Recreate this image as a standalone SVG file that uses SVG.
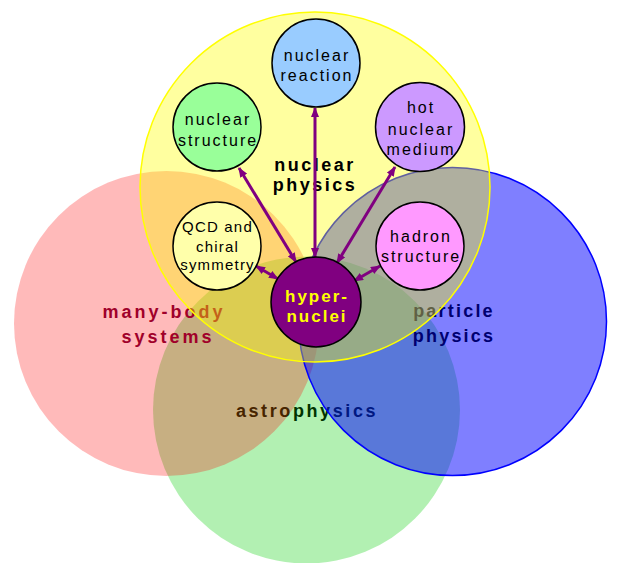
<svg xmlns="http://www.w3.org/2000/svg" width="622" height="563" viewBox="0 0 622 563">
<defs>
<marker id="ah" viewBox="0 0 10 8" refX="9" refY="4" markerWidth="10" markerHeight="8" markerUnits="userSpaceOnUse" orient="auto-start-reverse">
<path d="M0,0 L10,4 L0,8 z" fill="#800080"/>
</marker>
</defs>
<style>
text{font-family:"Liberation Sans",Arial,sans-serif;text-anchor:middle}
.big{font-size:18px;font-weight:bold;letter-spacing:2.6px}
.sm{font-size:16px;letter-spacing:2px;fill:#000}
.node{stroke:#000;stroke-width:1.5}
.conn line{stroke:#800080;stroke-width:3;marker-start:url(#ah);marker-end:url(#ah)}
</style>
<rect width="622" height="563" fill="#fff"/>
<g id="astrophysics">
<circle cx="306.5" cy="410" r="153.5" fill="#00cc00" fill-opacity="0.3"/>
<text class="big" x="307" y="417" fill="#003300">astrophysics</text>
</g>
<g id="many-body-systems">
<circle cx="166.5" cy="323.5" r="152.5" fill="#ff0000" fill-opacity="0.27"/>
<text class="big" x="164" y="318" fill="#a0002a" style="letter-spacing:3px">many-body</text>
<text class="big" x="168" y="342.5" fill="#a0002a" style="letter-spacing:3px">systems</text>
</g>
<g id="particle-physics">
<circle cx="452.5" cy="321.5" r="154" fill="#0000ff" fill-opacity="0.5" stroke="#0000ff" stroke-width="1.5"/>
<text class="big" x="454" y="317" fill="#000070" style="letter-spacing:2.2px">particle</text>
<text class="big" x="454" y="341.5" fill="#000070" style="letter-spacing:2.2px">physics</text>
</g>
<g id="nuclear-physics">
<circle cx="315" cy="187" r="175" fill="#ffff00" fill-opacity="0.375" stroke="#ffff00" stroke-width="1.5"/>
<text class="big" x="315" y="171" fill="#000" style="letter-spacing:2.5px">nuclear</text>
<text class="big" x="315" y="191" fill="#000" style="letter-spacing:2.5px">physics</text>
</g>
<g class="conn" id="connectors">
<line x1="239" y1="168" x2="296" y2="262"/>
<line x1="315" y1="108" x2="315" y2="257"/>
<line x1="395" y1="167" x2="337" y2="263"/>
<line x1="256" y1="266" x2="278" y2="279"/>
<line x1="380" y1="266" x2="354" y2="281"/>
</g>
<g id="nuclear-reaction">
<circle class="node" cx="316" cy="63" r="44" fill="#99ccff"/>
<text class="sm" x="317" y="61">nuclear</text>
<text class="sm" x="317" y="81">reaction</text>
</g>
<g id="nuclear-structure">
<circle class="node" cx="217" cy="127" r="44" fill="#99ff99"/>
<text class="sm" x="218" y="125">nuclear</text>
<text class="sm" x="218" y="146">structure</text>
</g>
<g id="hot-nuclear-medium">
<circle class="node" cx="420" cy="127" r="44.5" fill="#cc99ff"/>
<text class="sm" x="421" y="113">hot</text>
<text class="sm" x="421" y="135">nuclear</text>
<text class="sm" x="421" y="155">medium</text>
</g>
<g id="hadron-structure">
<circle class="node" cx="420" cy="246" r="44" fill="#ff99ff"/>
<text class="sm" x="421" y="242">hadron</text>
<text class="sm" x="421" y="262">structure</text>
</g>
<g id="qcd-chiral-symmetry">
<circle class="node" cx="217" cy="246" r="44" fill="#ffffaa"/>
<text class="sm" x="217.5" y="232" style="font-size:15px;letter-spacing:1.2px">QCD and</text>
<text class="sm" x="217.5" y="252" style="font-size:15px;letter-spacing:1.2px">chiral</text>
<text class="sm" x="217.5" y="270" style="font-size:15px;letter-spacing:1.2px">symmetry</text>
</g>
<g id="hypernuclei">
<circle class="node" cx="316" cy="302" r="45" fill="#800080"/>
<text x="317" y="302" fill="#ffff00" style="font-size:17px;font-weight:bold;letter-spacing:2px">hyper-</text>
<text x="317" y="322" fill="#ffff00" style="font-size:17px;font-weight:bold;letter-spacing:2px">nuclei</text>
</g>
</svg>
